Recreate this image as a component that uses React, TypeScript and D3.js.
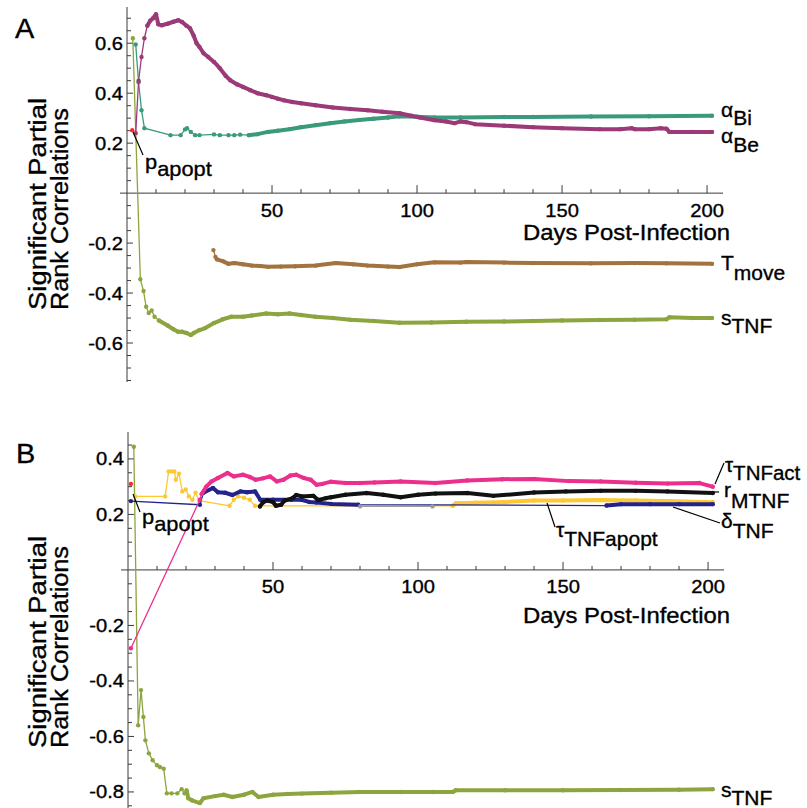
import React from "react";
import * as d3 from "d3";

type Pt = [number, number];

// ---------- Panel A data: [day, partial rank correlation] ----------
const aAlphaBe: Pt[] = [
  [3, 0.24], [4, 0.45], [5, 0.545], [6, 0.62], [7, 0.67], [8, 0.69], [9, 0.7], [10, 0.716], [10.8, 0.676],
  [12, 0.672], [14, 0.678], [16, 0.686], [17.7, 0.692], [19, 0.685], [20.5, 0.67], [21.7, 0.66], [23, 0.63],
  [24, 0.6], [25, 0.585], [26.4, 0.56], [28, 0.545], [30, 0.525], [32, 0.5], [34, 0.47], [35.6, 0.452],
  [38, 0.435], [40, 0.425], [42.5, 0.412], [45, 0.4], [48, 0.392], [50, 0.385], [52, 0.378], [54, 0.372],
  [57, 0.365], [60, 0.36], [65, 0.352], [71, 0.343], [77, 0.337], [83, 0.332], [88, 0.326], [94, 0.32],
  [98, 0.31], [101, 0.303], [106, 0.292], [110, 0.287], [113, 0.28], [115, 0.287], [117, 0.284], [120, 0.276],
  [130, 0.27], [140, 0.264], [150, 0.26], [163, 0.256], [170, 0.256], [174, 0.26], [175, 0.256], [180, 0.256],
  [184, 0.26], [186, 0.258], [187, 0.245], [195, 0.245], [201.7, 0.245],
];
const aAlphaBi: Pt[] = [
  [3, 0.595], [4, 0.444], [5, 0.332], [6, 0.26], [15, 0.232], [18.5, 0.232], [20, 0.255], [20.7, 0.26],
  [22, 0.245], [23.5, 0.232], [25, 0.232], [30, 0.235], [32, 0.232], [35, 0.232], [37, 0.232], [39, 0.234],
  [42, 0.232], [45, 0.236], [48.6, 0.245], [52, 0.25], [56, 0.256], [60, 0.264], [65, 0.272], [70, 0.28],
  [75, 0.287], [80, 0.293], [85, 0.298], [90, 0.303], [94, 0.308], [100, 0.306], [106, 0.303], [115, 0.303],
  [130, 0.305], [140, 0.305], [160, 0.307], [180, 0.308], [201.7, 0.31],
];
const aSTNF: Pt[] = [
  [2, 0.62], [4.6, -0.345], [5.7, -0.392], [6.6, -0.455], [7.5, -0.48], [8.5, -0.47], [9.5, -0.495], [11, -0.51],
  [14, -0.53], [16, -0.545], [17.6, -0.555], [19, -0.555], [20.5, -0.56], [22, -0.568], [23, -0.56], [25, -0.548],
  [27, -0.54], [30, -0.52], [33, -0.505], [36, -0.495], [40, -0.495], [43, -0.49], [48, -0.482], [52, -0.485],
  [56, -0.482], [60, -0.488], [65, -0.495], [71, -0.5], [77, -0.507], [85, -0.512], [94, -0.519], [105, -0.518],
  [117, -0.515], [130, -0.514], [140, -0.512], [150, -0.51], [163, -0.508], [175, -0.507], [186, -0.505],
  [187, -0.497], [195, -0.5], [201.7, -0.5],
];
const aTmove: Pt[] = [
  [29.8, -0.228], [30.5, -0.255], [31, -0.265], [33, -0.272], [35, -0.283], [37, -0.28], [40, -0.285],
  [43, -0.29], [46, -0.292], [48.6, -0.295], [53, -0.294], [58, -0.293], [65, -0.29], [72, -0.28], [78, -0.285],
  [83, -0.29], [90, -0.294], [94, -0.296], [100, -0.285], [106, -0.277], [115, -0.278], [117, -0.276],
  [130, -0.278], [140, -0.28], [160, -0.281], [175, -0.28], [186, -0.281], [201.7, -0.283],
];
const aPapopt: Pt[] = [[1.8, 0.252]];

// ---------- Panel B data ----------
const bSTNF: Pt[] = [
  [2, 0.444], [3.5, -0.56], [4.5, -0.433], [5.3, -0.53], [6, -0.614], [7.2, -0.661], [8.5, -0.686], [10, -0.704],
  [11, -0.71], [12.3, -0.716], [13.4, -0.805], [15, -0.805], [17, -0.805], [18.5, -0.79], [19.5, -0.805],
  [20.2, -0.795], [20.8, -0.823], [22, -0.83], [24.8, -0.84], [26, -0.823], [30, -0.815], [33, -0.81],
  [36, -0.818], [40, -0.81], [42.9, -0.8], [45, -0.818], [50, -0.81], [55, -0.807], [60, -0.806], [70, -0.803],
  [80, -0.8], [94, -0.8], [105, -0.8], [112, -0.8], [113, -0.794], [130, -0.794], [150, -0.794], [170, -0.793],
  [190, -0.792], [201.6, -0.79],
];
const bTauAct: Pt[] = [
  [1, -0.282], [24.8, 0.253], [25.4, 0.274], [27, 0.3], [28.8, 0.319], [31, 0.331], [34.3, 0.349], [36.5, 0.337],
  [39.6, 0.343], [42, 0.335], [44, 0.325], [46.5, 0.33], [49, 0.337], [51.3, 0.319], [53.6, 0.325], [56, 0.34],
  [58, 0.343], [60.7, 0.331], [63, 0.325], [65, 0.307], [67, 0.31], [70, 0.318], [75, 0.313], [80, 0.313],
  [85, 0.315], [94, 0.319], [106, 0.313], [117, 0.322], [129, 0.327], [140, 0.328], [152, 0.32], [163, 0.319],
  [175, 0.314], [186, 0.311], [197, 0.313], [201.6, 0.3],
];
const bRMTNF: Pt[] = [
  [45.5, 0.229], [46.5, 0.243], [48, 0.25], [50, 0.245], [51, 0.231], [52.8, 0.235], [54, 0.25], [56.8, 0.259],
  [58, 0.27], [60, 0.265], [63.9, 0.267], [65.5, 0.252], [68, 0.258], [70, 0.262], [75, 0.271], [82.3, 0.277],
  [88, 0.271], [94, 0.262], [100, 0.271], [106, 0.275], [117, 0.277], [126, 0.267], [140, 0.279], [151, 0.283],
  [163, 0.285], [175, 0.285], [186, 0.283], [201.6, 0.277],
];
const bDeltaTNF: Pt[] = [
  [1, 0.248], [24.8, 0.235], [26, 0.278], [29.3, 0.295], [31, 0.28], [33.5, 0.278], [36, 0.27], [38.8, 0.283],
  [41, 0.28], [43.8, 0.283], [45.6, 0.253], [50, 0.253], [56.4, 0.253], [59.7, 0.253], [62.5, 0.245], [65, 0.243],
  [70, 0.238], [79.4, 0.235], [165, 0.232], [170, 0.237], [180, 0.237], [190, 0.237], [201.6, 0.237],
];
const bTauApopt: Pt[] = [
  [2.5, 0.265], [12.8, 0.265], [14, 0.355], [15, 0.355], [16, 0.355], [16.5, 0.325], [17.6, 0.347], [18.7, 0.283],
  [19.9, 0.29], [21, 0.265], [22.2, 0.253], [23.3, 0.278], [24.5, 0.25], [35, 0.231], [36.5, 0.253], [38, 0.265],
  [40, 0.26], [42, 0.253], [43.8, 0.231], [112, 0.231], [113, 0.24], [120, 0.242], [130, 0.245], [140, 0.25],
  [150, 0.25], [163, 0.252], [175, 0.25], [186, 0.248], [201.6, 0.244],
];
const bGrey: Pt[] = [[80, 0.229], [105, 0.229]];
const bPapopt: Pt[] = [[1, 0.31]];

// ---------- ticks ----------
const xTickLabels = [50, 100, 150, 200];
const xMinorTicks = d3.range(10, 201, 10);
const yTickLabelsA = [-0.6, -0.4, -0.2, 0.2, 0.4, 0.6];
const yTickLabelsB = [-0.8, -0.6, -0.4, -0.2, 0.2, 0.4];

type Series = { pts: Pt[]; color: string; dense: [number, number][] };

const seriesA: Series[] = [
  { pts: aSTNF, color: "#8CA53E", dense: [[11, 202]] },
  { pts: aAlphaBi, color: "#3A9A7C", dense: [[40, 202]] },
  { pts: aAlphaBe, color: "#9B3A77", dense: [[7, 202]] },
  { pts: aTmove, color: "#A3733F", dense: [[31, 202]] },
  { pts: aPapopt, color: "#FF2A2A", dense: [] },
];
const seriesB: Series[] = [
  { pts: bSTNF, color: "#8CA53E", dense: [[20, 202]] },
  { pts: bTauApopt, color: "#FDC834", dense: [[112, 202]] },
  { pts: bDeltaTNF, color: "#23238A", dense: [[25, 80], [165, 202]] },
  { pts: bGrey, color: "#9A9A9A", dense: [] },
  { pts: bRMTNF, color: "#111111", dense: [[45, 202]] },
  { pts: bTauAct, color: "#EC2F8C", dense: [[25, 202]] },
  { pts: bPapopt, color: "#FF2A2A", dense: [] },
];

const FONT = "'Liberation Sans', Arial, Helvetica, sans-serif";

function Txt(props: {
  x: number; y: number; size: number; sx?: number; anchor?: string; rot?: number; len?: number; children: any;
}) {
  const { x, y, size, sx = 1, anchor = "start", rot = 0, len, children } = props;
  const tr = `translate(${x},${y})` + (rot ? ` rotate(${rot})` : "") + (sx !== 1 ? ` scale(${sx},1)` : "");
  return (
    <text
      transform={tr}
      fontSize={size}
      textAnchor={anchor}
      fontFamily={FONT}
      fill="#000"
      stroke="#000"
      strokeWidth={0.35}
      textLength={len}
      lengthAdjust={len ? "spacingAndGlyphs" : undefined}
    >
      {children}
    </text>
  );
}

function SeriesG({ s, x, y }: { s: Series; x: any; y: any }) {
  const line = d3.line<Pt>().x((d) => x(d[0])).y((d) => y(d[1]));
  return (
    <g>
      {s.pts.length > 1 && <path d={line(s.pts) || ""} fill="none" stroke={s.color} strokeWidth={1.3} />}
      {s.dense.map(([a, b], i) => (
        <path
          key={i}
          d={line(s.pts.filter((p) => p[0] >= a && p[0] <= b)) || ""}
          fill="none"
          stroke={s.color}
          strokeWidth={4}
          strokeLinejoin="round"
          strokeLinecap="round"
        />
      ))}
      {s.pts.map((p, i) => (
        <circle key={i} cx={x(p[0])} cy={y(p[1])} r={2.2} fill={s.color} />
      ))}
    </g>
  );
}

function Axes({ x, y, yLabels, yMin, yMax, tickBase, titleBase }: any) {
  const x0 = x(0);
  const y0 = y(0);
  const yMinor = d3
    .range(Math.ceil(yMin / 0.05), Math.floor(yMax / 0.05) + 1)
    .map((k) => k * 0.05)
    .filter((v) => Math.abs(v) > 1e-6);
  const isMajor = (v: number) => Math.abs(v / 0.2 - Math.round(v / 0.2)) < 1e-6;
  const axisColor = "#3a3a3a";
  return (
    <g>
      <line x1={x0} x2={x0} y1={y(yMax)} y2={y(yMin)} stroke={axisColor} strokeWidth={1} />
      <line x1={x0 - 7} x2={x(205.5)} y1={y0} y2={y0} stroke={axisColor} strokeWidth={1} />
      {yMinor.map((v, i) => (
        <line key={i} x1={x0} x2={x0 + (isMajor(v) ? 6 : 4)} y1={y(v)} y2={y(v)} stroke={axisColor} strokeWidth={1} />
      ))}
      {xMinorTicks.map((d, i) => (
        <line key={i} x1={x(d)} x2={x(d)} y1={y0} y2={y0 - (d % 50 === 0 ? 8 : 4)} stroke={axisColor} strokeWidth={1} />
      ))}
      {yLabels.map((v: number, i: number) => (
        <Txt key={i} x={x0 - 4} y={y(v) + 6.5} size={18} sx={1.12} anchor="end">{v.toFixed(1)}</Txt>
      ))}
      {xTickLabels.map((d, i) => (
        <Txt key={i} x={x(d)} y={y0 + tickBase} size={18} sx={1.12} anchor="middle">{String(d)}</Txt>
      ))}
      <Txt x={523} y={y0 + titleBase} size={21.5} len={207}>Days Post-Infection</Txt>
    </g>
  );
}

export default function App() {
  const xA = d3.scaleLinear().domain([0, 205.5]).range([127, 723]);
  const yA = d3.scaleLinear().domain([-0.756, 0.745]).range([382, 7]);
  const xB = d3.scaleLinear().domain([0, 205.5]).range([128, 724]);
  const yB = d3.scaleLinear().domain([-0.86, 0.497]).range([808.6, 432]);
  const lc = "#000";
  return (
    <svg
      width={807}
      height={808}
      viewBox="0 0 807 808"
      style={{ position: "absolute", left: 0, top: 0, background: "#fff" }}
    >
      <rect x={0} y={0} width={807} height={808} fill="#fff" />
      {/* Panel A */}
      <Txt x={15} y={38} size={27} sx={1.07}>A</Txt>
      <Txt x={46} y={310} size={23} rot={-90} len={212}>Significant Partial</Txt>
      <Txt x={68} y={310} size={23} rot={-90} len={202}>Rank Correlations</Txt>
      <Axes x={xA} y={yA} yLabels={yTickLabelsA} yMin={-0.756} yMax={0.745} tickBase={24} titleBase={47} />
      {seriesA.map((s, i) => <SeriesG key={i} s={s} x={xA} y={yA} />)}
      <line x1={133} y1={132} x2={143} y2={155} stroke={lc} strokeWidth={1.2} />
      <Txt x={145} y={169} size={21} sx={1.04}>p<tspan dy={7}>apopt</tspan></Txt>
      <Txt x={721} y={117} size={21}>α<tspan dy={8}>Bi</tspan></Txt>
      <Txt x={721} y={143} size={21}>α<tspan dy={9}>Be</tspan></Txt>
      <Txt x={721} y={270} size={21}>T<tspan dy={10}>move</tspan></Txt>
      <Txt x={721} y={325} size={21}>s<tspan dy={8}>TNF</tspan></Txt>

      {/* Panel B */}
      <Txt x={16} y={463} size={27} sx={1.07}>B</Txt>
      <Txt x={46} y={748} size={23} rot={-90} len={212}>Significant Partial</Txt>
      <Txt x={68} y={748} size={23} rot={-90} len={202}>Rank Correlations</Txt>
      <Axes x={xB} y={yB} yLabels={yTickLabelsB} yMin={-0.86} yMax={0.497} tickBase={23} titleBase={53} />
      {seriesB.map((s, i) => <SeriesG key={i} s={s} x={xB} y={yB} />)}
      <line x1={133} y1={494} x2={140} y2={512} stroke={lc} strokeWidth={1.2} />
      <Txt x={142} y={524} size={21} sx={1.04}>p<tspan dy={7}>apopt</tspan></Txt>
      <line x1={715} y1={484} x2={724} y2={463} stroke={lc} strokeWidth={1.2} />
      <Txt x={725} y={472} size={20.5}>τ<tspan dy={8}>TNFact</tspan></Txt>
      <line x1={713} y1={492} x2={719} y2={492} stroke={lc} strokeWidth={1.2} />
      <Txt x={724} y={497} size={21}>r<tspan dy={11}>MTNF</tspan></Txt>
      <line x1={673} y1={507} x2={720} y2={523} stroke={lc} strokeWidth={1.2} />
      <Txt x={721} y={528} size={21}>δ<tspan dy={10}>TNF</tspan></Txt>
      <line x1={547} y1={503} x2={555} y2={527} stroke={lc} strokeWidth={1.2} />
      <Txt x={556} y={537} size={21}>τ<tspan dy={9}>TNFapopt</tspan></Txt>
      <Txt x={721} y={797} size={21}>s<tspan dy={8}>TNF</tspan></Txt>
    </svg>
  );
}
